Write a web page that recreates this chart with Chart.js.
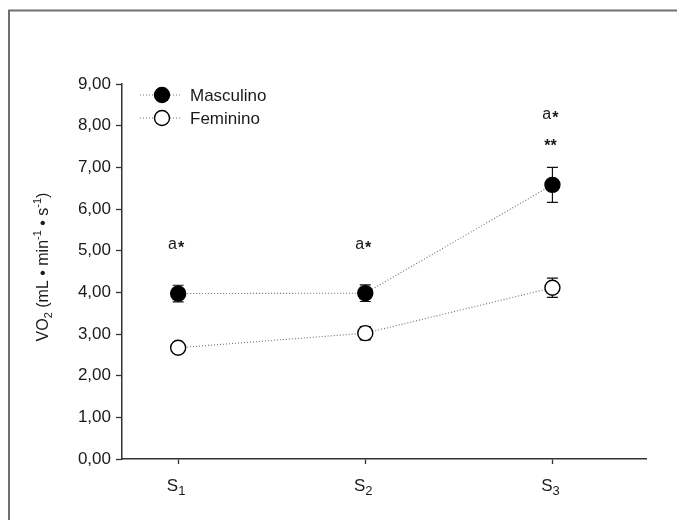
<!DOCTYPE html>
<html>
<head>
<meta charset="utf-8">
<script src="https://cdn.jsdelivr.net/npm/chart.js@4/dist/chart.umd.min.js"></script>
<style>
  html, body { margin: 0; padding: 0; background: #fff; }
  canvas { display: block; }
</style>
</head>
<body>
<canvas id="c" width="677" height="520"></canvas>
<script>
// ---- data ----
const categories = ['S', 'S', 'S'];
const categorySubs = ['1', '2', '3'];
const xPositions = [1, 2, 3];
const masculino = [3.97, 3.98, 6.58];
const masculinoErr = [0.2, 0.2, 0.42];
const feminino = [2.67, 3.02, 4.11];
const femininoErr = [0.1, 0.16, 0.23];
const yTicks = [0, 1, 2, 3, 4, 5, 6, 7, 8, 9];
const seriesNames = ['Masculino', 'Feminino'];
// significance marks: [category index, y value, text]
const marks = [
  [0, 5.14, 'a*'],
  [1, 5.15, 'a*'],
  [2, 8.26, 'a*'],
  [2, 7.58, '**']
];

const FONT = '"Liberation Sans", Arial, Helvetica, sans-serif';
const TXT = '#1a1a1a';
const AX = '#333';

function pts(vals) { return vals.map((v, i) => ({ x: xPositions[i], y: v })); }

const errors = [masculinoErr, femininoErr];

const frame = {
  id: 'frame',
  beforeDraw(chart) {
    const ctx = chart.ctx;
    ctx.save();
    ctx.strokeStyle = '#707070';
    ctx.lineWidth = 2;
    ctx.beginPath();
    ctx.moveTo(9, 520);
    ctx.lineTo(9, 10.5);
    ctx.lineTo(677, 10.5);
    ctx.stroke();
    ctx.restore();
  }
};

const errorBars = {
  id: 'errorBars',
  beforeDatasetsDraw(chart) {
    const ctx = chart.ctx, xs = chart.scales.x, ys = chart.scales.y;
    ctx.save();
    ctx.strokeStyle = '#111';
    ctx.lineWidth = 1.2;
    chart.data.datasets.forEach((ds, di) => {
      ds.data.forEach((p, i) => {
        const e = errors[di][i];
        const x = xs.getPixelForValue(p.x);
        const yt = ys.getPixelForValue(p.y + e);
        const yb = ys.getPixelForValue(p.y - e);
        ctx.beginPath();
        ctx.moveTo(x, yt); ctx.lineTo(x, yb);
        ctx.moveTo(x - 5.5, yt); ctx.lineTo(x + 5.5, yt);
        ctx.moveTo(x - 5.5, yb); ctx.lineTo(x + 5.5, yb);
        ctx.stroke();
      });
    });
    ctx.restore();
  }
};

function drawMark(ctx, cx, cy, text) {
  ctx.textBaseline = 'middle';
  if (text === 'a*') {
    ctx.font = '16px ' + FONT;
    const wa = ctx.measureText('a').width;
    ctx.font = 'bold 16px ' + FONT;
    const ws = ctx.measureText('*').width;
    const x0 = cx - (wa + ws + 1) / 2;
    ctx.font = '16px ' + FONT;
    ctx.textAlign = 'left';
    ctx.fillText('a', x0, cy);
    ctx.font = 'bold 16px ' + FONT;
    ctx.fillText('*', x0 + wa + 1, cy + 4);
  } else {
    ctx.font = 'bold 16px ' + FONT;
    ctx.textAlign = 'center';
    ctx.fillText(text, cx, cy + 3);
  }
}

const extras = {
  id: 'extras',
  afterDraw(chart) {
    const ctx = chart.ctx, xs = chart.scales.x, ys = chart.scales.y;
    ctx.save();
    ctx.fillStyle = TXT;
    // x category labels with subscripts
    xPositions.forEach((v, i) => {
      const x = xs.getPixelForValue(v);
      ctx.font = '17px ' + FONT;
      const w1 = ctx.measureText(categories[i]).width;
      ctx.font = '13px ' + FONT;
      const w2 = ctx.measureText(categorySubs[i]).width;
      const x0 = x - 2 - (w1 + w2) / 2;
      ctx.textAlign = 'left';
      ctx.textBaseline = 'alphabetic';
      ctx.font = '17px ' + FONT;
      ctx.fillText(categories[i], x0, 491);
      ctx.font = '13px ' + FONT;
      ctx.fillText(categorySubs[i], x0 + w1, 495);
    });
    // significance marks
    marks.forEach(m => {
      const x = xs.getPixelForValue(xPositions[m[0]]) - 2;
      const y = ys.getPixelForValue(m[1]);
      drawMark(ctx, x, y, m[2]);
    });
    // y axis title (rotated)
    ctx.save();
    ctx.translate(48, 267);
    ctx.rotate(-Math.PI / 2);
    const parts = [
      ['VO', 16, 0], ['2', 11, 4], [' (mL \u2022 min', 16, 0], ['-1', 11, -7],
      [' \u2022 s', 16, 0], ['-1', 11, -7], [')', 16, 0]
    ];
    let total = 0;
    parts.forEach(p => { ctx.font = p[1] + 'px ' + FONT; total += ctx.measureText(p[0]).width; });
    let px = -total / 2;
    ctx.textAlign = 'left';
    ctx.textBaseline = 'alphabetic';
    parts.forEach(p => {
      ctx.font = p[1] + 'px ' + FONT;
      ctx.fillText(p[0], px, 0 + p[2]);
      px += ctx.measureText(p[0]).width;
    });
    ctx.restore();
    // legend
    chart.data.datasets.forEach((ds, i) => {
      const y = 95 + i * 23;
      ctx.save();
      ctx.strokeStyle = ds.borderColor;
      ctx.lineWidth = 1;
      ctx.setLineDash(ds.borderDash);
      ctx.beginPath();
      ctx.moveTo(140, y); ctx.lineTo(182, y);
      ctx.stroke();
      ctx.setLineDash([]);
      ctx.beginPath();
      ctx.arc(162, y, ds.pointRadius, 0, Math.PI * 2);
      ctx.fillStyle = ds.pointBackgroundColor;
      ctx.fill();
      ctx.strokeStyle = ds.pointBorderColor;
      ctx.lineWidth = ds.pointBorderWidth;
      ctx.stroke();
      ctx.restore();
      ctx.fillStyle = TXT;
      ctx.font = '17px ' + FONT;
      ctx.textAlign = 'left';
      ctx.textBaseline = 'middle';
      ctx.fillText(ds.label, 190, y + 1);
    });
    ctx.restore();
  }
};

function ds(label, vals, fill) {
  return {
    label: label,
    data: pts(vals),
    borderColor: '#6e6e6e',
    borderWidth: 1.1,
    borderDash: [1, 2],
    pointRadius: 7.5,
    pointHoverRadius: 7.5,
    pointBackgroundColor: fill,
    pointBorderColor: '#000',
    pointBorderWidth: 1.4,
    fill: false,
    tension: 0
  };
}

new Chart(document.getElementById('c'), {
  type: 'line',
  data: {
    datasets: [ds(seriesNames[0], masculino, '#000'), ds(seriesNames[1], feminino, '#fff')]
  },
  options: {
    responsive: false,
    animation: false,
    events: [],
    layout: { padding: { left: 0, top: 84, right: 31, bottom: 0 } },
    plugins: { legend: { display: false }, tooltip: { enabled: false } },
    scales: {
      x: {
        type: 'linear',
        min: 0.7,
        max: 3.5,
        afterBuildTicks(s) { s.ticks = xPositions.map(v => ({ value: v })); },
        afterFit(s) { s.height = 61; },
        ticks: { callback: () => '', font: { size: 16, family: FONT } },
        grid: { drawOnChartArea: false, tickLength: 5, tickColor: AX, tickWidth: 1.3 },
        border: { color: AX, width: 1.5 }
      },
      y: {
        min: 0,
        max: 9,
        afterBuildTicks(s) { s.ticks = yTicks.map(v => ({ value: v })); },
        afterFit(s) { s.width = 122; },
        ticks: {
          padding: 5,
          color: TXT,
          font: { size: 17, family: FONT },
          callback: v => v.toFixed(2).replace('.', ',')
        },
        grid: { drawOnChartArea: false, tickLength: 6, tickColor: AX, tickWidth: 1.3 },
        border: { color: AX, width: 1.5 }
      }
    }
  },
  plugins: [frame, errorBars, extras]
});
</script>
</body>
</html>
